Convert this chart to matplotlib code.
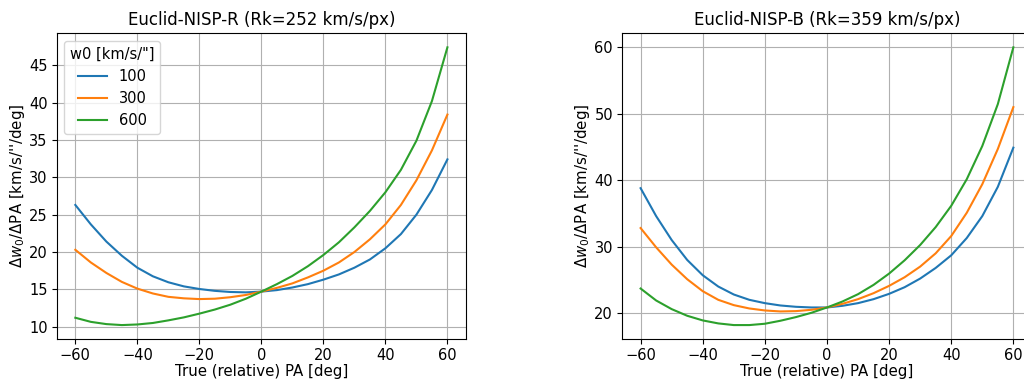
import matplotlib
matplotlib.use('Agg')
from matplotlib import pyplot as plt

# position angle samples [deg]
pa = [-60, -55, -50, -45, -40, -35, -30, -25, -20, -15, -10, -5, 0,
      5, 10, 15, 20, 25, 30, 35, 40, 45, 50, 55, 60]

w0_labels = ['100', '300', '600']

# Euclid-NISP-R, Rk = 252 km/s/px
r_w100 = [26.3, 23.7, 21.4, 19.5, 17.9, 16.75, 15.95, 15.4, 15.05, 14.8, 14.65, 14.6, 14.7,
          14.9, 15.25, 15.7, 16.3, 17.0, 17.9, 19.0, 20.5, 22.4, 25.0, 28.3, 32.4]
r_w300 = [20.3, 18.6, 17.2, 16.0, 15.1, 14.45, 14.0, 13.8, 13.7, 13.75, 13.95, 14.25, 14.7,
          15.2, 15.8, 16.6, 17.5, 18.6, 20.0, 21.7, 23.7, 26.3, 29.6, 33.6, 38.4]
r_w600 = [11.2, 10.65, 10.35, 10.22, 10.3, 10.5, 10.85, 11.25, 11.75, 12.3, 12.95, 13.75, 14.7,
          15.7, 16.8, 18.1, 19.6, 21.3, 23.3, 25.5, 28.0, 31.0, 34.9, 40.2, 47.4]

# Euclid-NISP-B, Rk = 359 km/s/px
b_w100 = [38.8, 34.6, 31.0, 28.0, 25.7, 24.0, 22.8, 22.0, 21.5, 21.15, 20.95, 20.85, 20.85,
          21.1, 21.5, 22.1, 22.9, 23.9, 25.2, 26.8, 28.7, 31.3, 34.6, 39.0, 44.9]
b_w300 = [32.8, 29.9, 27.3, 25.1, 23.3, 22.0, 21.2, 20.7, 20.4, 20.25, 20.3, 20.5, 20.85,
          21.4, 22.1, 23.0, 24.1, 25.4, 27.0, 29.0, 31.6, 35.1, 39.4, 44.7, 51.0]
b_w600 = [23.7, 21.9, 20.6, 19.6, 18.9, 18.45, 18.2, 18.2, 18.4, 18.85, 19.4, 20.05, 20.85,
          21.75, 22.85, 24.25, 25.95, 27.95, 30.25, 32.95, 36.15, 40.15, 45.15, 51.45, 60.0]

panels = [
    ('Euclid-NISP-R (Rk=252 km/s/px)', [r_w100, r_w300, r_w600]),
    ('Euclid-NISP-B (Rk=359 km/s/px)', [b_w100, b_w300, b_w600]),
]

fig = plt.figure(figsize=(10.24, 3.8), dpi=100)
axes = [fig.add_axes([0.0554, 0.108, 0.3997, 0.804]),
        fig.add_axes([0.6074, 0.108, 0.4004, 0.804])]

for i, (ax, (title, series)) in enumerate(zip(axes, panels)):
    for vals, lab in zip(series, w0_labels):
        ax.plot(pa, vals, label=lab, lw=1.5)
    ax.set_title(title, fontsize=12)
    ax.set_xlabel('True (relative) PA [deg]', fontsize=10.8, labelpad=0.5)
    ax.set_ylabel("$\\Delta w_0/\\Delta$PA [km/s/''/deg]", fontsize=10.8, labelpad=1.5)
    ax.tick_params(labelsize=10.5, pad=3)
    ax.grid(True)
    if i == 0:
        ax.legend(title='w0 [km/s/"]', loc='upper left', fontsize=10.5,
                  title_fontsize=10.5)

fig.savefig('out.png', dpi=100)
